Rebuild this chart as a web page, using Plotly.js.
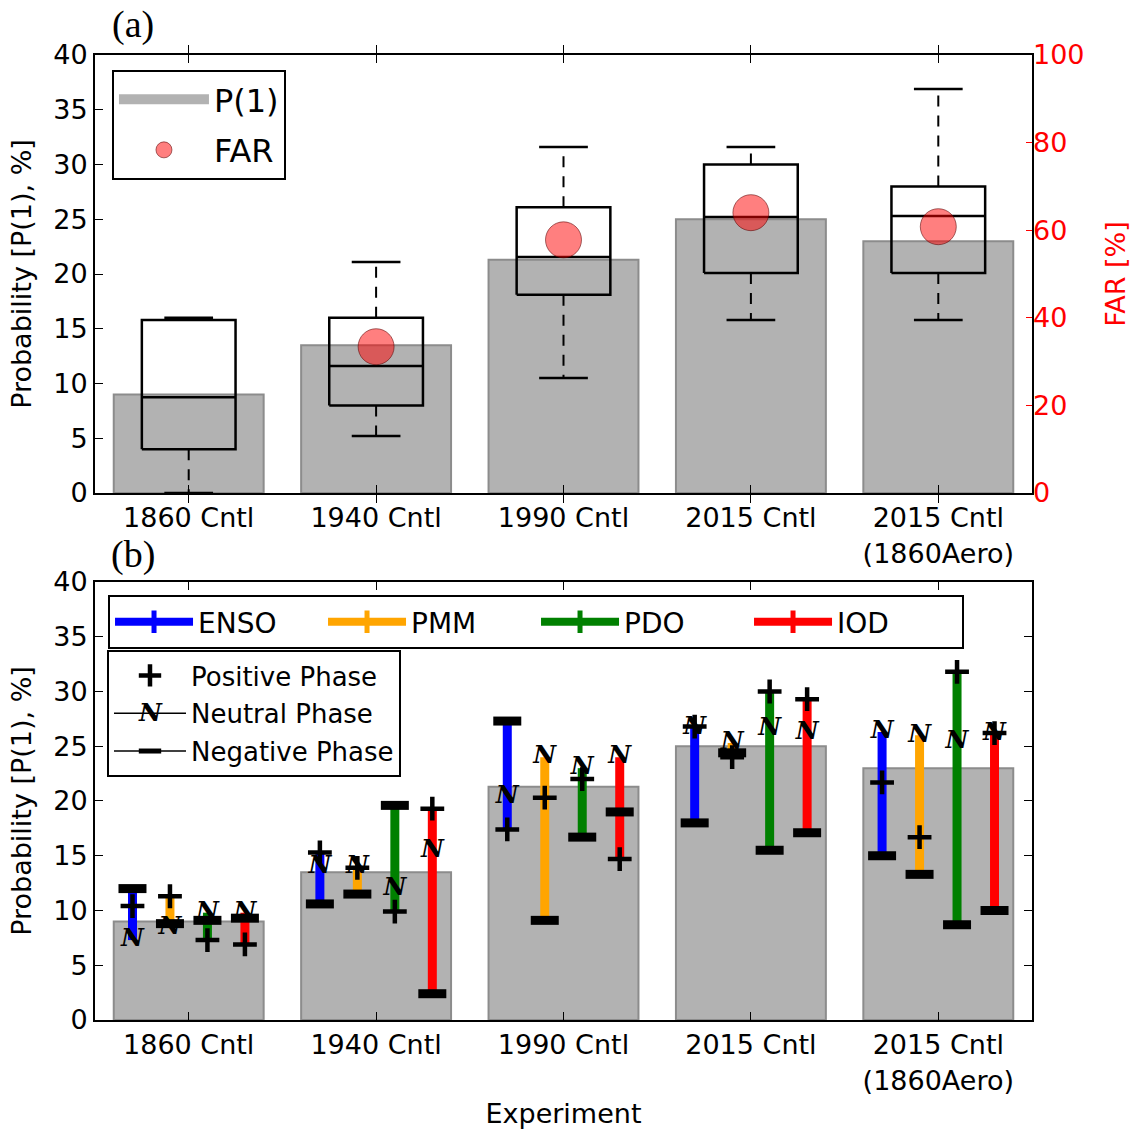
<!DOCTYPE html>
<html>
<head>
<meta charset="utf-8">
<script src="https://cdn.plot.ly/plotly-3.0.1.min.js"></script>
<style>html,body{margin:0;padding:0;background:#fff;}#chart{width:1134px;height:1133px;}</style>
</head>
<body>
<div id="chart"></div>
<script>
// ---------- data ----------
const categories = ['1860 Cntl', '1940 Cntl', '1990 Cntl', '2015 Cntl', '2015 Cntl<br>(1860Aero)'];
const p1 = [9.0, 13.5, 21.3, 25.0, 23.0];
const far = [null, 33.4, 57.8, 64.0, 60.8];
const boxQ1 = [4.0, 8.0, 18.1, 20.1, 20.1];
const boxMedian = [8.75, 11.6, 21.55, 25.2, 25.3];
const boxQ3 = [15.8, 16.0, 26.1, 30.0, 28.0];
const whiskerLow = [0.0, 5.2, 10.5, 15.8, 15.8];
const whiskerHigh = [16.0, 21.1, 31.6, 31.6, 36.9];

const indices = ['ENSO', 'PMM', 'PDO', 'IOD'];
const ensoPos = [10.4, 15.3, 17.4, 26.8, 21.7];
const ensoNeu = [7.3, 14.0, 20.4, 26.7, 26.3];
const ensoNeg = [12.0, 10.6, 27.3, 18.0, 15.0];
const pmmPos = [11.3, 13.9, 20.3, 24.0, 16.7];
const pmmNeu = [8.4, 14.0, 24.0, 25.3, 26.0];
const pmmNeg = [8.8, 11.5, 9.1, 24.4, 13.3];
const pdoPos = [7.3, 9.9, 22.0, 30.0, 31.8];
const pdoNeu = [9.8, 12.0, 23.0, 26.6, 25.4];
const pdoNeg = [9.1, 19.6, 16.7, 15.5, 8.7];
const iodPos = [6.9, 19.3, 14.7, 29.3, 26.2];
const iodNeu = [9.8, 15.5, 24.0, 26.2, 26.1];
const iodNeg = [9.3, 2.4, 19.0, 17.1, 10.0];

// ---------- styling / derived ----------
const colors = ['#0000ff', '#ffa500', '#008000', '#ff0000'];
const offsets = [-0.3, -0.1, 0.1, 0.3];
const phaseData = [
  {pos: ensoPos, neu: ensoNeu, neg: ensoNeg},
  {pos: pmmPos, neu: pmmNeu, neg: pmmNeg},
  {pos: pdoPos, neu: pdoNeu, neg: pdoNeg},
  {pos: iodPos, neu: iodNeu, neg: iodNeg}
];
const xIdx = categories.map((_, i) => i);
const BAR_FILL = 'rgb(178,178,178)';
const BAR_EDGE = 'rgb(140,140,140)';

const traces = [];

// Panel (a) bars
traces.push({
  type: 'bar', x: xIdx, y: p1, width: 0.8, name: 'P(1)', showlegend: false,
  marker: {color: BAR_FILL, line: {color: BAR_EDGE, width: 2}},
  xaxis: 'x', yaxis: 'y', hoverinfo: 'skip'
});
// legend entry for P(1) drawn as a wide grey patch
traces.push({
  type: 'scatter', mode: 'lines', x: [null], y: [null], name: 'P(1)',
  line: {color: BAR_FILL, width: 24},
  xaxis: 'x', yaxis: 'y', legend: 'legend', legendgroup: 'a1'
});

// Box plot built from statistics
const hb = 0.25, hc = 0.13;
const bx = [], by = [], mx = [], my = [], wx = [], wy = [], cx = [], cy = [];
xIdx.forEach(i => {
  bx.push(i - hb, i + hb, i + hb, i - hb, i - hb, null);
  by.push(boxQ1[i], boxQ1[i], boxQ3[i], boxQ3[i], boxQ1[i], null);
  mx.push(i - hb, i + hb, null); my.push(boxMedian[i], boxMedian[i], null);
  wx.push(i, i, null, i, i, null);
  wy.push(boxQ3[i], whiskerHigh[i], null, boxQ1[i], whiskerLow[i], null);
  cx.push(i - hc, i + hc, null, i - hc, i + hc, null);
  cy.push(whiskerHigh[i], whiskerHigh[i], null, whiskerLow[i], whiskerLow[i], null);
});
const boxLine = {color: '#000', width: 2.5};
traces.push({type: 'scatter', mode: 'lines', x: wx, y: wy, line: {color: '#000', width: 2, dash: '11px,9px'}, showlegend: false, hoverinfo: 'skip', xaxis: 'x', yaxis: 'y'});
traces.push({type: 'scatter', mode: 'lines', x: cx, y: cy, line: {color: '#000', width: 2.5}, showlegend: false, hoverinfo: 'skip', xaxis: 'x', yaxis: 'y'});
traces.push({type: 'scatter', mode: 'lines', x: bx, y: by, line: boxLine, showlegend: false, hoverinfo: 'skip', xaxis: 'x', yaxis: 'y'});
traces.push({type: 'scatter', mode: 'lines', x: mx, y: my, line: boxLine, showlegend: false, hoverinfo: 'skip', xaxis: 'x', yaxis: 'y'});

// FAR circles
traces.push({
  type: 'scatter', mode: 'markers', x: xIdx, y: far, name: 'FAR',
  marker: {size: 36, color: 'rgba(255,0,0,0.5)', line: {color: 'rgba(90,0,0,0.55)', width: 1}},
  xaxis: 'x', yaxis: 'y2', legend: 'legend', legendgroup: 'a2', cliponaxis: false
});

// Panel (b) bars
traces.push({
  type: 'bar', x: xIdx, y: p1, width: 0.8, name: 'P(1) b', showlegend: false,
  marker: {color: BAR_FILL, line: {color: BAR_EDGE, width: 2}},
  xaxis: 'x2', yaxis: 'y3', hoverinfo: 'skip'
});

// Vertical range lines for each index
phaseData.forEach((d, k) => {
  const lx = [], ly = [];
  xIdx.forEach(i => {
    const vals = [d.pos[i], d.neu[i], d.neg[i]];
    lx.push(i + offsets[k], i + offsets[k], null);
    ly.push(Math.min(...vals), Math.max(...vals), null);
  });
  traces.push({type: 'scatter', mode: 'lines', x: lx, y: ly, line: {color: colors[k], width: 9},
    showlegend: false, hoverinfo: 'skip', xaxis: 'x2', yaxis: 'y3'});
});

// markers
const px = [], py = [], nx = [], ny = [], gx = [], gy = [];
phaseData.forEach((d, k) => {
  xIdx.forEach(i => {
    px.push(i + offsets[k]); py.push(d.pos[i]);
    nx.push(i + offsets[k]); ny.push(d.neu[i]);
    gx.push(i + offsets[k]); gy.push(d.neg[i]);
  });
});
const nFont = {family: 'DejaVu Serif', size: 25, color: '#000', weight: 'bold', style: 'italic'};
traces.push({type: 'scatter', mode: 'text', x: nx, y: ny, text: nx.map(() => 'N'), textposition: 'middle center',
  textfont: nFont, showlegend: false, hoverinfo: 'skip', xaxis: 'x2', yaxis: 'y3', cliponaxis: false});
traces.push({type: 'scatter', mode: 'markers', x: gx, y: gy, marker: {symbol: 'line-ew', size: 20, line: {color: '#000', width: 9}},
  showlegend: false, hoverinfo: 'skip', xaxis: 'x2', yaxis: 'y3', cliponaxis: false});
traces.push({type: 'scatter', mode: 'markers', x: px, y: py, name: 'Positive Phase', legend: 'legend3', legendgroup: 'p1',
  marker: {symbol: 'cross-thin', size: 17, color: '#000', line: {color: '#000', width: 4.5}},
  hoverinfo: 'skip', xaxis: 'x2', yaxis: 'y3', cliponaxis: false});

// legend-only entries
indices.forEach((name, k) => {
  traces.push({type: 'scatter', mode: 'lines+markers', x: [null], y: [null], name: name, legend: 'legend2',
    line: {color: colors[k], width: 8}, marker: {symbol: 'cross-thin', size: 16, line: {color: colors[k], width: 8}},
    xaxis: 'x2', yaxis: 'y3'});
});
traces.push({type: 'scatter', mode: 'lines', x: [null], y: [null], name: 'Neutral Phase', legend: 'legend3', legendgroup: 'p2',
  line: {color: '#000', width: 1.5}, xaxis: 'x2', yaxis: 'y3'});
traces.push({type: 'scatter', mode: 'lines+markers', x: [null], y: [null], name: 'Negative Phase', legend: 'legend3', legendgroup: 'p3',
  line: {color: '#000', width: 1.5}, marker: {symbol: 'line-ew', size: 16, line: {color: '#000', width: 8}},
  xaxis: 'x2', yaxis: 'y3'});

const tickFont = {family: 'DejaVu Sans', size: 27, color: '#000'};
const titleFont = {family: 'DejaVu Sans', size: 27, color: '#000'};
const xCommon = {
  range: [-0.5, 4.5], tickvals: xIdx, ticktext: categories, tickfont: tickFont,
  ticks: 'inside', ticklen: 8, tickwidth: 1, tickcolor: '#000',
  showline: true, linecolor: '#000', linewidth: 2, mirror: 'allticks',
  showgrid: false, zeroline: false, fixedrange: true
};
const yCommon = {
  range: [0, 40], tickvals: [0, 5, 10, 15, 20, 25, 30, 35, 40], tickfont: tickFont,
  ticks: 'inside', ticklen: 8, tickwidth: 1, tickcolor: '#000',
  showline: true, linecolor: '#000', linewidth: 2,
  showgrid: false, zeroline: false, fixedrange: true
};

const layout = {
  width: 1134, height: 1133,
  margin: {l: 95, r: 102, t: 55, b: 113},
  paper_bgcolor: '#fff', plot_bgcolor: 'rgba(0,0,0,0)',
  font: {family: 'DejaVu Sans', size: 27, color: '#000'},
  barmode: 'overlay',
  xaxis: Object.assign({}, xCommon, {domain: [0, 1], anchor: 'y'}),
  yaxis: Object.assign({}, yCommon, {domain: [0.5461, 1], anchor: 'x', mirror: true,
    title: {text: 'Probability [P(1), %]', font: titleFont, standoff: 14}}),
  yaxis2: {overlaying: 'y', side: 'right', anchor: 'x', range: [0, 100], tickvals: [0, 20, 40, 60, 80, 100],
    tickfont: {family: 'DejaVu Sans', size: 27, color: '#ff0000'},
    ticks: 'inside', ticklen: 6, tickwidth: 1, tickcolor: '#ff0000', showline: false, showgrid: false, zeroline: false,
    fixedrange: true,
    title: {text: 'FAR [%]', font: {family: 'DejaVu Sans', size: 27, color: '#ff0000'}, standoff: 22}},
  xaxis2: Object.assign({}, xCommon, {domain: [0, 1], anchor: 'y3',
    title: {text: 'Experiment', font: titleFont, standoff: 10}}),
  yaxis3: Object.assign({}, yCommon, {domain: [0, 0.4539], anchor: 'x2', mirror: 'allticks',
    title: {text: 'Probability [P(1), %]', font: titleFont, standoff: 14}}),
  legend: {x: 0.0181, y: 0.9845, xanchor: 'left', yanchor: 'top', bgcolor: '#fff', bordercolor: '#000', borderwidth: 2,
    font: {family: 'DejaVu Sans', size: 32, color: '#000'}, itemwidth: 90, traceorder: 'grouped', tracegroupgap: 6},
  legend2: {x: 0.0139, y: 0.4404, xanchor: 'left', yanchor: 'top', orientation: 'h', bgcolor: '#fff', bordercolor: '#000', borderwidth: 2,
    font: {family: 'DejaVu Sans', size: 28, color: '#000'}, itemwidth: 78, entrywidth: 120, traceorder: 'normal'},
  legend3: {x: 0.0128, y: 0.3834, xanchor: 'left', yanchor: 'top', bgcolor: '#fff', bordercolor: '#000', borderwidth: 2,
    font: {family: 'DejaVu Sans', size: 26, color: '#000'}, itemwidth: 72, traceorder: 'grouped', tracegroupgap: 1},
  annotations: [
    {text: '(a)', xref: 'paper', yref: 'paper', x: 0.0406, y: 1.032, xanchor: 'center', yanchor: 'middle', showarrow: false,
      font: {family: 'Liberation Serif', size: 38, color: '#000'}},
    {text: '(b)', xref: 'paper', yref: 'paper', x: 0.0406, y: 0.4828, xanchor: 'center', yanchor: 'middle', showarrow: false,
      font: {family: 'Liberation Serif', size: 38, color: '#000'}},
    {text: 'N', xref: 'paper', yref: 'paper', x: (150 - 95) / 937, y: (1020 - 712) / 965, xanchor: 'center', yanchor: 'middle',
      showarrow: false, font: nFont}
  ]
};

Plotly.newPlot('chart', traces, layout, {staticPlot: true});
</script>
</body>
</html>
